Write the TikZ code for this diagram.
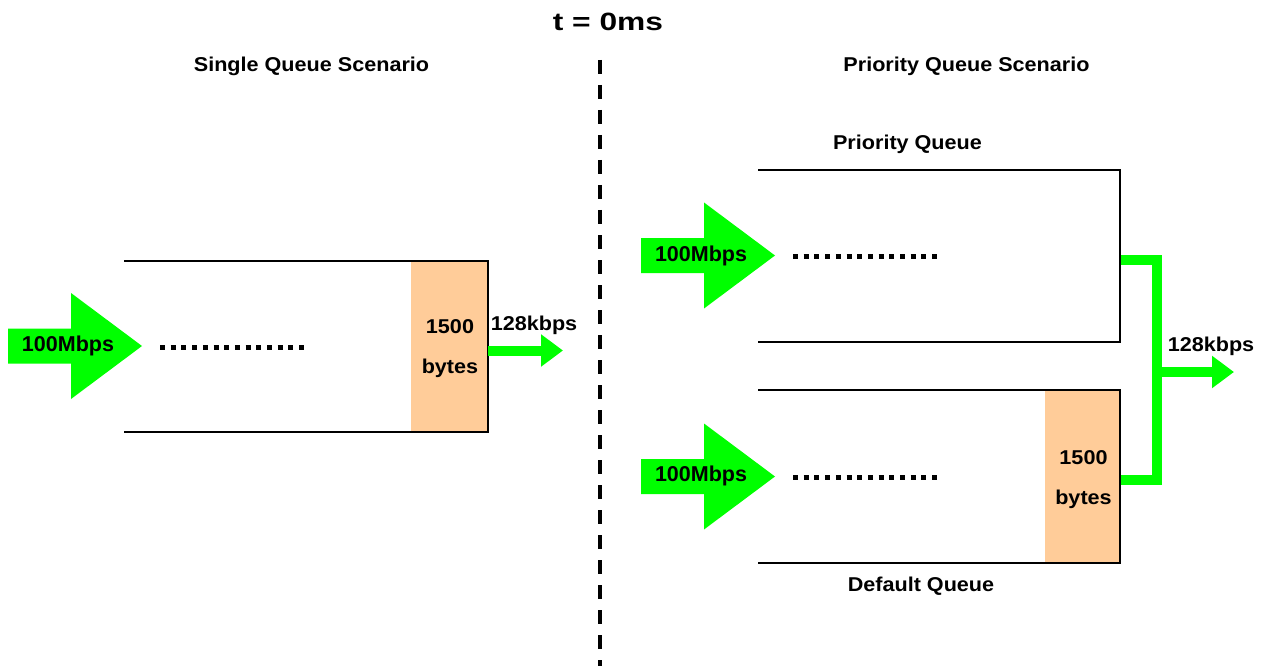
\documentclass[tikz,border=0pt]{standalone}
\usepackage{fontspec}
\setmainfont[FakeStretch=1.08]{Liberation Sans}
\newfontfamily\titlefont[FakeStretch=1.27]{Liberation Sans}
\newfontfamily\ratefont{Liberation Sans}
\usetikzlibrary{arrows.meta}

\definecolor{flowgreen}{RGB}{0,255,0}
\definecolor{packet}{RGB}{255,204,153}

\tikzset{
  lbl/.style={font=\fontsize{20}{24}\selectfont\bfseries, inner sep=0pt, anchor=base},
  inlbl/.style={font=\ratefont\fontsize{21.5}{26}\selectfont\bfseries, inner sep=0pt, anchor=base},
  heading/.style={font=\titlefont\fontsize{25}{30}\selectfont\bfseries, inner sep=0pt, anchor=base},
  queue/.style={draw=black, line width=2.2pt, line join=miter},
  pkt/.style={fill=packet},
  dots/.style={line width=5pt, dash pattern=on 5pt off 5.7pt, line cap=butt},
  divider/.style={line width=4pt, dash pattern=on 14pt off 11pt},
  link/.style={draw=flowgreen, line width=10pt, line join=miter, line cap=butt},
  outflow/.style={draw=flowgreen, line width=10pt, line cap=butt,
    -{Triangle[length=22pt,width=31pt]}},
  pics/fatarrow/.style={code={
    \fill[flowgreen] (0,-17.5) -- (63,-17.5) -- (63,-53) -- (134,0)
      -- (63,53) -- (63,17.5) -- (0,17.5) -- cycle;
  }}
}

\begin{document}
\begin{tikzpicture}[x=1pt, y=-1pt]
\useasboundingbox (0,0) rectangle (1270,666);

% title and divider
\node[heading] (title) at (608,31) {t = 0ms};
\coordinate (divtop) at (600,60);
\coordinate (divbot) at (600,666);
\draw[divider] (divtop) -- (divbot);

% ---------------- single queue ----------------
\node[lbl] (singlehead) at (311.5,71.7) {Single Queue Scenario};
\fill[pkt] (411,261) rectangle (488,432);
\draw[queue] (124,261) -- (488,261) -- (488,432) -- (124,432);
\node[lbl] (sizeA) at (450,333) {1500};
\node[lbl] (bytesA) at (450,373) {bytes};

\pic at (8,346) {fatarrow};
\node[inlbl] (inA) at (68,351.7) {100Mbps};
\coordinate (dotsAs) at (160,347);
\coordinate (dotsAe) at (304,347);
\draw[dots] (dotsAs) -- (dotsAe);

\coordinate (outA) at (488,350.5);
\coordinate (tipA) at (563,350.5);
\draw[outflow] (outA) -- (tipA);
\node[lbl] (rateA) at (534,330) {128kbps};

% ---------------- priority queues ----------------
\node[lbl] (prihead) at (966.5,72) {Priority Queue Scenario};
\node[lbl] (priname) at (907.5,150) {Priority Queue};
\node[lbl] (defname) at (921,591.7) {Default Queue};

% green links from both queues into the shared output
\coordinate (priout) at (1120,260);
\coordinate (defout) at (1120,480);
\coordinate (merge) at (1157,372);
\coordinate (tipB) at (1234,372);
\draw[link] (priout) -- (1157,260) -- (1157,480) -- (defout);
\draw[outflow] (merge) -- (tipB);
\node[lbl] (rateB) at (1211,351.7) {128kbps};

% priority queue
\draw[queue] (758,170) -- (1120,170) -- (1120,342) -- (758,342);
\pic at (641,255.5) {fatarrow};
\node[inlbl] (inB) at (701,261) {100Mbps};
\coordinate (dotsBs) at (793,256);
\coordinate (dotsBe) at (937,256);
\draw[dots] (dotsBs) -- (dotsBe);

% default queue
\fill[pkt] (1045,390) rectangle (1120,563);
\draw[queue] (758,390) -- (1120,390) -- (1120,563) -- (758,563);
\node[lbl] (sizeB) at (1083.5,464) {1500};
\node[lbl] (bytesB) at (1083.5,504) {bytes};
\pic at (641,476.5) {fatarrow};
\node[inlbl] (inC) at (701,481.7) {100Mbps};
\coordinate (dotsCs) at (793,477);
\coordinate (dotsCe) at (937,477);
\draw[dots] (dotsCs) -- (dotsCe);
\end{tikzpicture}
\end{document}
